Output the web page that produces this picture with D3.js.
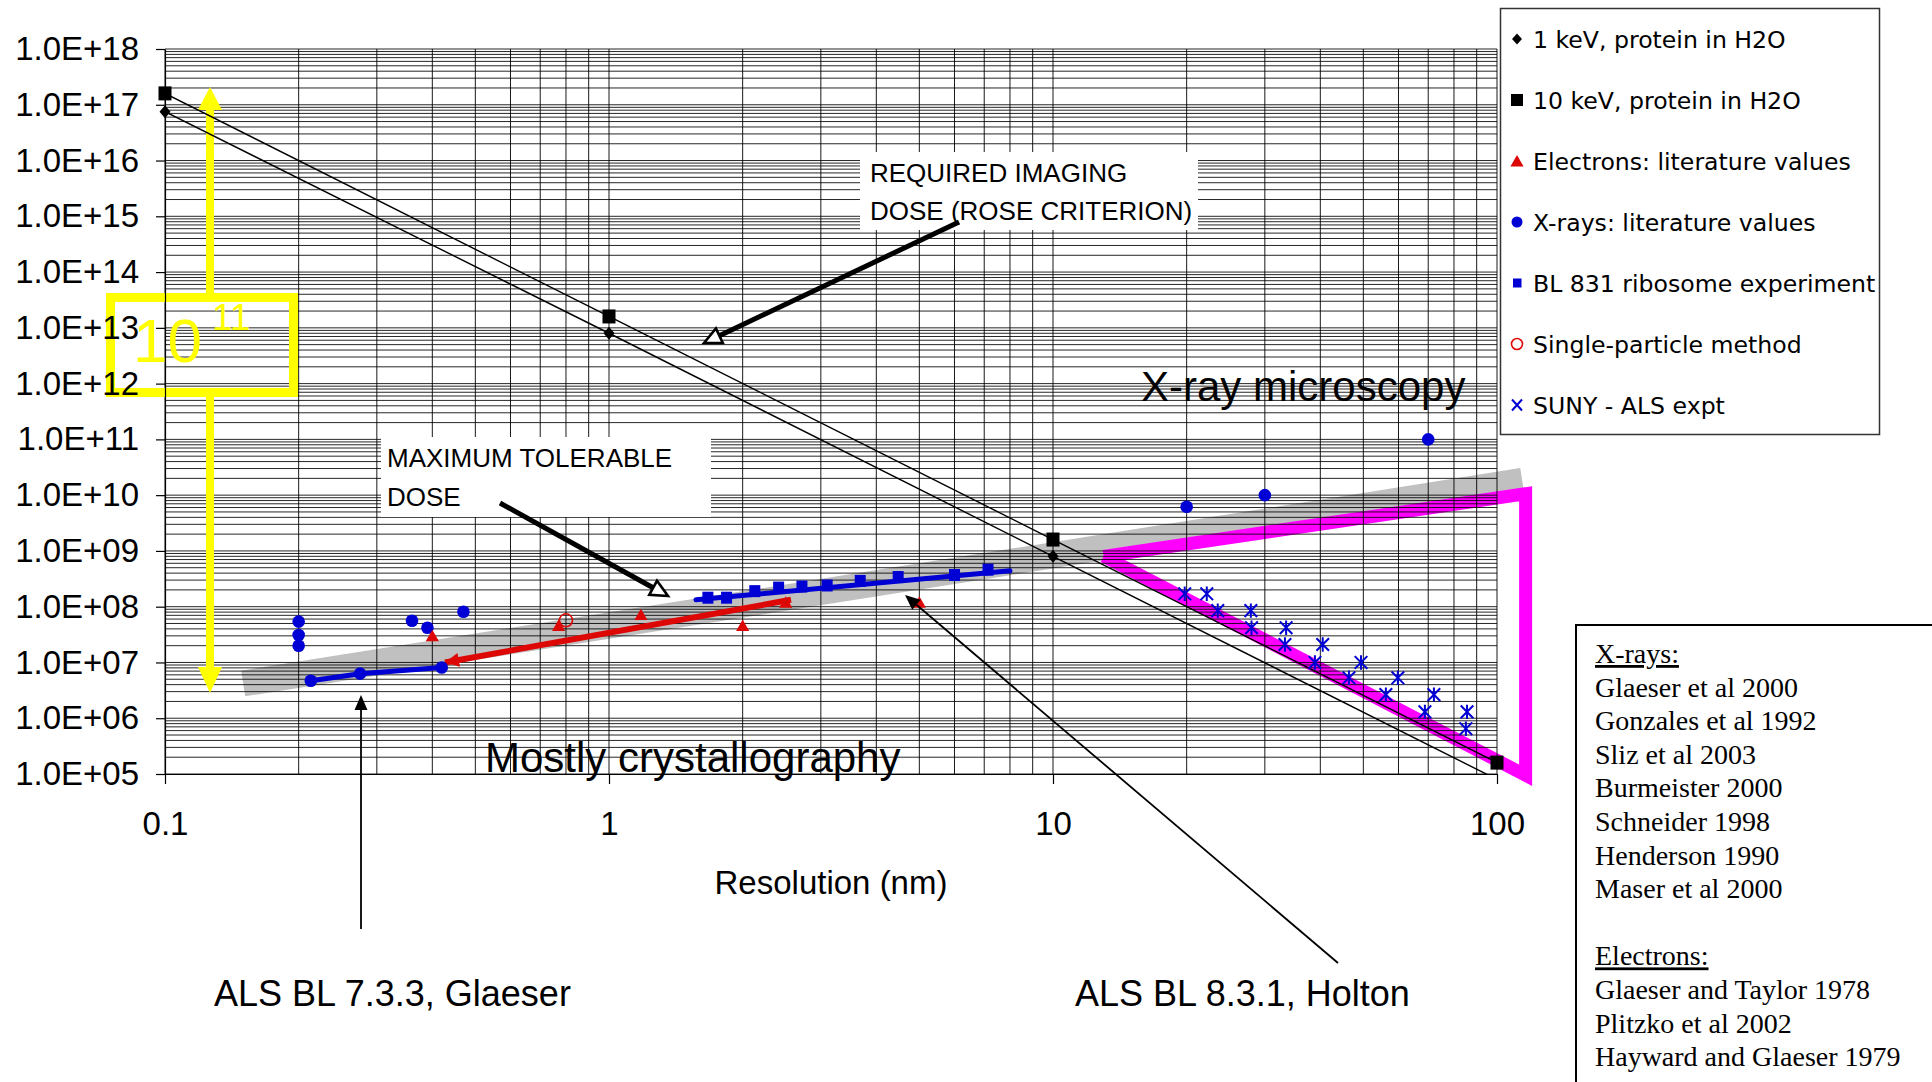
<!DOCTYPE html>
<html><head><meta charset="utf-8">
<script src="https://cdn.jsdelivr.net/npm/d3@7"></script>
<style>
html,body{margin:0;padding:0;background:#fff;}
svg{display:block;font-family:"Liberation Sans",Arial,Helvetica,sans-serif;}
</style></head><body>
<svg id="c" width="1932" height="1082"></svg>
<script>
// ================= DATA =================
const xTickValues = [0.1, 1, 10, 100];
const xTickLabels = ["0.1", "1", "10", "100"];
const yTickValues = [1e5, 1e6, 1e7, 1e8, 1e9, 1e10, 1e11, 1e12, 1e13, 1e14, 1e15, 1e16, 1e17, 1e18];
const yTickLabels = ["1.0E+05", "1.0E+06", "1.0E+07", "1.0E+08", "1.0E+09", "1.0E+10", "1.0E+11",
                     "1.0E+12", "1.0E+13", "1.0E+14", "1.0E+15", "1.0E+16", "1.0E+17", "1.0E+18"];
const xAxisTitle = "Resolution (nm)";

// 1 keV, protein in H2O (resolution nm, dose)
const keV1Res  = [0.1, 1, 10, 100];
const keV1Dose = [7.5e16, 8.0e12, 8.0e8, 8.0e4];
// 10 keV, protein in H2O
const keV10Res  = [0.1, 1, 10, 100];
const keV10Dose = [1.6e17, 1.6e13, 1.6e9, 1.6e5];
// Electrons: literature values
const electronRes  = [0.40, 0.77, 1.18, 2.0, 2.5, 5.0];
const electronDose = [3.0e7, 4.6e7, 7.2e7, 4.6e7, 1.2e8, 1.2e8];
// X-rays: literature values
const xrayRes  = [0.2, 0.2, 0.2, 0.36, 0.39, 0.47, 20, 30, 70];
const xrayDose = [5.4e7, 3.1e7, 2.0e7, 5.6e7, 4.2e7, 8.1e7, 6.2e9, 1.0e10, 1.0e11];
// ALS BL 7.3.3 (Glaeser) measurements
const bl733Res  = [0.213, 0.275, 0.42];
const bl733Dose = [4.7e6, 6.3e6, 8.1e6];
// BL 831 ribosome experiment
const bl831Res  = [1.67, 1.84, 2.13, 2.41, 2.72, 3.1, 3.68, 4.48, 6.0, 7.14];
const bl831Dose = [1.45e8, 1.45e8, 1.9e8, 2.2e8, 2.3e8, 2.4e8, 2.9e8, 3.4e8, 3.7e8, 4.6e8];
const bl831FitRes  = [1.57, 8.0];
const bl831FitDose = [1.33e8, 4.4e8];
// electron trend
const electronFitRes  = [0.427, 2.57];
const electronFitDose = [1.0e7, 1.33e8];
// Single-particle method
const singleParticleRes  = [0.8];
const singleParticleDose = [5.7e7];
// SUNY - ALS expt
const sunyRes  = [19.8, 22.2, 23.5, 27.9, 28.0, 33.5, 33.3, 40.5, 38.9, 49.4, 46.4, 59.8, 56.2, 72.1, 68.8, 85.6, 85.1];
const sunyDose = [1.7e8, 1.7e8, 8.5e7, 8.5e7, 4.2e7, 4.2e7, 2.1e7, 2.1e7, 1.0e7, 1.0e7, 5.3e6, 5.3e6, 2.65e6, 2.65e6, 1.3e6, 1.3e6, 6.5e5];
// grey "maximum tolerable dose" band and magenta "x-ray microscopy" region
const bandRes  = [0.15, 114];
const bandDose = [4.2e6, 1.8e10];
const xrmRes  = [13, 116, 116, 13];
const xrmDose = [8.0e8, 1.06e10, 9.5e4, 8.0e8];

const legendLabels = ["1 keV, protein in H2O", "10 keV, protein in H2O", "Electrons: literature values",
  "X-rays: literature values", "BL 831 ribosome experiment", "Single-particle method", "SUNY - ALS expt"];
const refXrayTitle = "X-rays:";
const refXrays = ["Glaeser et al 2000", "Gonzales et al 1992", "Sliz et al 2003", "Burmeister 2000",
  "Schneider 1998", "Henderson 1990", "Maser et al 2000"];
const refElectronTitle = "Electrons:";
const refElectrons = ["Glaeser and Taylor 1978", "Plitzko et al 2002", "Hayward and Glaeser 1979"];

// ================= DRAWING =================
const BLUE = "#0000d4", RED = "#dd0806", MAG = "#ff00ff", YEL = "#ffff00";
const SANS = '"Liberation Sans", Arial, Helvetica, sans-serif';
const svg = d3.select("#c");
svg.append("rect").attr("width", 1932).attr("height", 1082).attr("fill", "#fff");

const x = d3.scaleLog().domain([0.1, 100]).range([165, 1497]);
const y = d3.scaleLog().domain([1e5, 1e18]).range([774, 49]);
const zip = (a, b) => a.map((v, i) => [v, b[i]]);
const line = d3.line().x(d => x(d[0])).y(d => y(d[1]));

const defs = svg.append("defs");
defs.append("clipPath").attr("id", "plotClip").append("rect")
  .attr("x", 165).attr("y", 49).attr("width", 1332).attr("height", 725);

// grey band + magenta region (under the grid)
svg.append("path").datum(zip(bandRes, bandDose)).attr("d", line)
  .attr("fill", "none").attr("stroke", "#c0c0c0").attr("stroke-width", 26);
svg.append("path").datum(zip(xrmRes, xrmDose)).attr("d", line)
  .attr("fill", "none").attr("stroke", MAG).attr("stroke-width", 13)
  .attr("stroke-linejoin", "miter").attr("stroke-miterlimit", 2);

// grid
const xGrid = [];
for (let e = -1; e <= 1; e++) for (let k = 1; k <= 9; k++) xGrid.push(k * Math.pow(10, e));
xGrid.push(100);
const yGrid = [];
for (let e = 5; e <= 17; e++) for (let k = 1; k <= 9; k++) yGrid.push(k * Math.pow(10, e));
yGrid.push(1e18);
const grid = svg.append("g");
grid.selectAll("line.h").data(yGrid).join("line").attr("class", "h")
  .attr("x1", 165).attr("x2", 1497).attr("y1", d => y(d)).attr("y2", d => y(d))
  .attr("stroke", "#000").attr("stroke-width", 1).attr("stroke-opacity", 0.85);
grid.selectAll("line.v").data(xGrid).join("line").attr("class", "v")
  .attr("y1", 49).attr("y2", 774).attr("x1", d => x(d)).attr("x2", d => x(d))
  .attr("stroke", "#000").attr("stroke-width", 1).attr("stroke-opacity", 0.9);

// white annotation boxes covering grid
svg.append("rect").attr("x", 860).attr("y", 152).attr("width", 338).attr("height", 78).attr("fill", "#fff");
svg.append("rect").attr("x", 381).attr("y", 437).attr("width", 330).attr("height", 80).attr("fill", "#fff");

// yellow 10^11 annotation
const yl = svg.append("g").attr("fill", YEL);
yl.append("rect").attr("x", 206).attr("y", 108).attr("width", 8).attr("height", 186);
yl.append("path").attr("d", "M210,87 L198,110 L222,110 Z");
yl.append("rect").attr("x", 206).attr("y", 396).attr("width", 8).attr("height", 273);
yl.append("path").attr("d", "M198,667 L222,667 L210,693 Z");
yl.append("rect").attr("x", 110.5).attr("y", 297.5).attr("width", 183).attr("height", 95)
  .attr("fill", "none").attr("stroke", YEL).attr("stroke-width", 9);
yl.append("text").attr("x", 133).attr("y", 362).style("font-size", "62px").style("font-family", SANS).attr("fill", YEL).text("10");
yl.append("text").attr("x", 212).attr("y", 330).style("font-size", "37px").style("font-family", SANS).attr("fill", YEL).text("11");

// axes
const yAxis = d3.axisLeft(y).tickValues(yTickValues).tickFormat((d, i) => yTickLabels[i])
  .tickSize(9).tickSizeOuter(0).tickPadding(17);
const gy = svg.append("g").attr("transform", "translate(165,0)").call(yAxis);
gy.attr("font-family", null).attr("font-size", null);
gy.selectAll("text").style("font-size", "33px").style("font-family", SANS).attr("fill", "#000");
gy.selectAll("line,path").attr("stroke", "#000").attr("stroke-width", 1.2);
const xAxis = d3.axisBottom(x).tickValues(xTickValues).tickFormat((d, i) => xTickLabels[i])
  .tickSize(10).tickSizeOuter(0).tickPadding(28);
const gx = svg.append("g").attr("transform", "translate(0,774)").call(xAxis);
gx.attr("font-family", null).attr("font-size", null);
gx.selectAll("text").style("font-size", "33px").style("font-family", SANS).attr("fill", "#000");
gx.selectAll("line,path").attr("stroke", "#000").attr("stroke-width", 1.2);
svg.append("text").attr("x", 831).attr("y", 894).attr("text-anchor", "middle")
  .style("font-size", "33px").style("font-family", SANS).text(xAxisTitle);

// series lines (clipped)
const lines = svg.append("g").attr("clip-path", "url(#plotClip)");
lines.append("path").datum(zip(keV10Res, keV10Dose)).attr("d", line)
  .attr("fill", "none").attr("stroke", "#000").attr("stroke-width", 1.4);
lines.append("path").datum(zip(keV1Res, keV1Dose)).attr("d", line)
  .attr("fill", "none").attr("stroke", "#000").attr("stroke-width", 1.4);
svg.append("path").datum(zip(bl733Res, bl733Dose)).attr("d", line)
  .attr("fill", "none").attr("stroke", BLUE).attr("stroke-width", 5);
svg.append("path").datum(zip(bl831FitRes, bl831FitDose)).attr("d", line)
  .attr("fill", "none").attr("stroke", BLUE).attr("stroke-width", 5).attr("stroke-linecap", "round");
svg.append("path").datum(zip(electronFitRes, electronFitDose)).attr("d", line)
  .attr("fill", "none").attr("stroke", RED).attr("stroke-width", 6);
// arrowhead at start of the electron trend line
{
  const x0 = x(electronFitRes[0]), y0 = y(electronFitDose[0]);
  const x1 = x(electronFitRes[1]), y1 = y(electronFitDose[1]);
  const L = Math.hypot(x1 - x0, y1 - y0), ux = (x1 - x0) / L, uy = (y1 - y0) / L;
  const bx = x0 + ux * 14, by = y0 + uy * 14, px = -uy * 7, py = ux * 7;
  svg.append("path").attr("d", `M${x0},${y0} L${bx + px},${by + py} L${bx - px},${by - py} Z`).attr("fill", RED);
}

// markers
const mk = svg.append("g");
// 10 keV squares
mk.selectAll("rect.k10").data(zip(keV10Res, keV10Dose).filter(d => d[1] >= 1e5)).join("rect")
  .attr("class", "k10").attr("x", d => x(d[0]) - 6.5).attr("y", d => y(d[1]) - 7)
  .attr("width", 13).attr("height", 14).attr("fill", "#000");
// 1 keV diamonds
mk.selectAll("path.k1").data(zip(keV1Res, keV1Dose).filter(d => d[1] >= 1e5)).join("path")
  .attr("class", "k1").attr("d", d => { const cx = x(d[0]), cy = y(d[1]);
    return `M${cx},${cy - 6.5} L${cx + 5.5},${cy} L${cx},${cy + 6.5} L${cx - 5.5},${cy} Z`; })
  .attr("fill", "#000");
// x-ray circles
mk.selectAll("circle.xr").data(zip(xrayRes, xrayDose)).join("circle")
  .attr("class", "xr").attr("cx", d => x(d[0])).attr("cy", d => y(d[1])).attr("r", 6.3).attr("fill", BLUE);
mk.selectAll("circle.b7").data(zip(bl733Res, bl733Dose)).join("circle")
  .attr("class", "b7").attr("cx", d => x(d[0])).attr("cy", d => y(d[1])).attr("r", 6.3).attr("fill", BLUE);
// BL 831 squares
mk.selectAll("rect.b8").data(zip(bl831Res, bl831Dose)).join("rect")
  .attr("class", "b8").attr("x", d => x(d[0]) - 5.5).attr("y", d => y(d[1]) - 6)
  .attr("width", 11).attr("height", 12).attr("fill", BLUE);
// electron triangles
const tri = (cx, cy, s) => `M${cx},${cy - s * 0.5} L${cx + s * 0.55},${cy + s * 0.45} L${cx - s * 0.55},${cy + s * 0.45} Z`;
mk.selectAll("path.el").data(zip(electronRes, electronDose)).join("path")
  .attr("class", "el").attr("d", d => tri(x(d[0]), y(d[1]), 12)).attr("fill", RED);
// single-particle
mk.selectAll("circle.sp").data(zip(singleParticleRes, singleParticleDose)).join("circle")
  .attr("class", "sp").attr("cx", d => x(d[0])).attr("cy", d => y(d[1])).attr("r", 6.5)
  .attr("fill", "none").attr("stroke", RED).attr("stroke-width", 1.6);
// SUNY asterisks
const star = (cx, cy, r) => `M${cx - r},${cy - r} L${cx + r},${cy + r} M${cx - r},${cy + r} L${cx + r},${cy - r} M${cx},${cy - r * 1.15} L${cx},${cy + r * 1.15}`;
mk.selectAll("path.su").data(zip(sunyRes, sunyDose)).join("path")
  .attr("class", "su").attr("d", d => star(x(d[0]), y(d[1]), 6.3))
  .attr("fill", "none").attr("stroke", BLUE).attr("stroke-width", 2);

// ---- annotations ----
function arrowOpen(x1, y1, x2, y2) {
  const L = Math.hypot(x2 - x1, y2 - y1), ux = (x2 - x1) / L, uy = (y2 - y1) / L;
  const bx = x2 - ux * 17, by = y2 - uy * 17, px = -uy * 8, py = ux * 8;
  svg.append("line").attr("x1", x1).attr("y1", y1).attr("x2", bx).attr("y2", by)
    .attr("stroke", "#000").attr("stroke-width", 5);
  svg.append("path").attr("d", `M${x2},${y2} L${bx + px},${by + py} L${bx - px},${by - py} Z`)
    .attr("fill", "#fff").attr("stroke", "#000").attr("stroke-width", 2.6).attr("stroke-linejoin", "miter");
}
function arrowFilled(x1, y1, x2, y2) {
  const L = Math.hypot(x2 - x1, y2 - y1), ux = (x2 - x1) / L, uy = (y2 - y1) / L;
  const bx = x2 - ux * 15, by = y2 - uy * 15, px = -uy * 6.5, py = ux * 6.5;
  svg.append("line").attr("x1", x1).attr("y1", y1).attr("x2", bx).attr("y2", by)
    .attr("stroke", "#000").attr("stroke-width", 1.8);
  svg.append("path").attr("d", `M${x2},${y2} L${bx + px},${by + py} L${bx - px},${by - py} Z`).attr("fill", "#000");
}
arrowOpen(959, 222, 704, 343);
arrowOpen(500, 503, 668, 596);
arrowFilled(361, 929, 361, 695);
arrowFilled(1338, 963, 905, 595);

const ann = svg.append("g").attr("fill", "#000");
const annText = (tx, ty, fs, s) => ann.append("text").attr("x", tx).attr("y", ty)
  .style("font-size", fs + "px").style("font-family", SANS).text(s);
annText(870, 182, 26, "REQUIRED IMAGING");
annText(870, 220, 26, "DOSE (ROSE CRITERION)");
annText(387, 467, 26, "MAXIMUM TOLERABLE");
annText(387, 506, 26, "DOSE");
annText(1141, 401, 42, "X-ray microscopy");
annText(485, 772, 42, "Mostly crystallography");
annText(214, 1006, 36, "ALS BL 7.3.3, Glaeser");
annText(1075, 1006, 36, "ALS BL 8.3.1, Holton");

// ---- legend ----
const lg = svg.append("g");
lg.append("rect").attr("x", 1500.5).attr("y", 8.5).attr("width", 379).attr("height", 426)
  .attr("fill", "#fff").attr("stroke", "#333").attr("stroke-width", 1.5);
const rowY = i => 39 + i * 61;
const lx = 1517;
lg.append("path").attr("d", `M${lx},${rowY(0) - 5.5} L${lx + 5},${rowY(0)} L${lx},${rowY(0) + 5.5} L${lx - 5},${rowY(0)} Z`).attr("fill", "#000");
lg.append("rect").attr("x", lx - 6).attr("y", rowY(1) - 6).attr("width", 12).attr("height", 12).attr("fill", "#000");
lg.append("path").attr("d", tri(lx, rowY(2), 12)).attr("fill", RED);
lg.append("circle").attr("cx", lx).attr("cy", rowY(3)).attr("r", 5.5).attr("fill", BLUE);
lg.append("rect").attr("x", lx - 4).attr("y", rowY(4) - 4.5).attr("width", 8.5).attr("height", 9).attr("fill", BLUE);
lg.append("circle").attr("cx", lx).attr("cy", rowY(5)).attr("r", 5.5).attr("fill", "none").attr("stroke", RED).attr("stroke-width", 1.6);
lg.append("path").attr("d", `M${lx - 5},${rowY(6) - 5.5} L${lx + 5},${rowY(6) + 5.5} M${lx - 5},${rowY(6) + 5.5} L${lx + 5},${rowY(6) - 5.5}`)
  .attr("stroke", BLUE).attr("stroke-width", 2);
lg.selectAll("text").data(legendLabels).join("text")
  .attr("x", 1533).attr("y", (d, i) => rowY(i) + 9)
  .style("font-family", '"DejaVu Sans", Verdana, sans-serif').style("font-size", "23.6px").attr("fill", "#000")
  .text(d => d);

// ---- references box ----
const SERIF = '"Liberation Serif", "Times New Roman", serif';
const rb = svg.append("g");
rb.append("rect").attr("x", 1576).attr("y", 625).attr("width", 360).attr("height", 480)
  .attr("fill", "#fff").attr("stroke", "#000").attr("stroke-width", 2);
const refLines = [{t: refXrayTitle, u: true}].concat(refXrays.map(t => ({t, u: false})))
  .concat([{t: "", u: false}, {t: refElectronTitle, u: true}]).concat(refElectrons.map(t => ({t, u: false})));
refLines.forEach((r, i) => {
  if (!r.t) return;
  rb.append("text").attr("x", 1595).attr("y", 663 + i * 33.6)
    .style("font-size", "28px").style("font-family", SERIF)
    .style("text-decoration", r.u ? "underline" : "none").attr("fill", "#000").text(r.t);
});
</script>
</body></html>
